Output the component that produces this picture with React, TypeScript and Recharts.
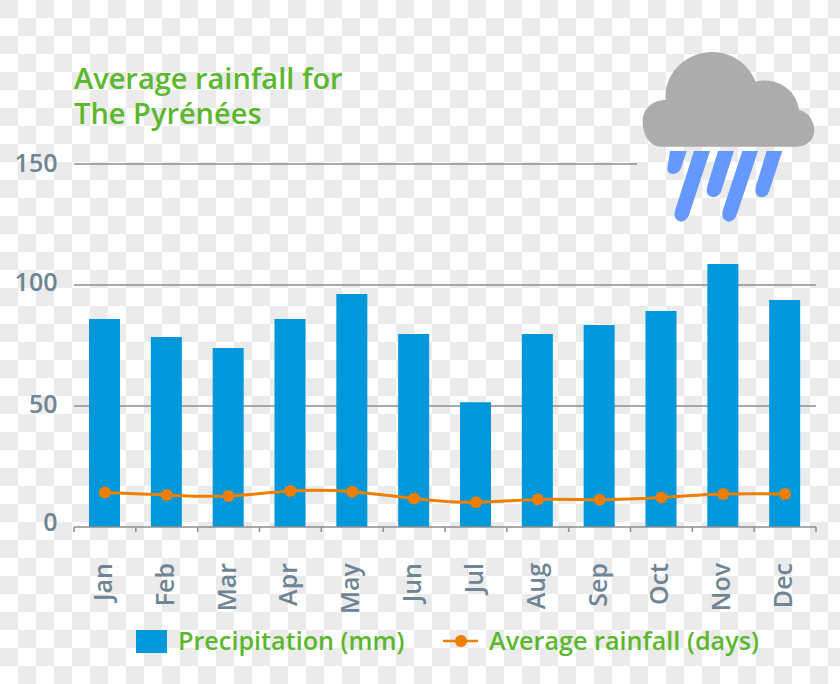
import React from "react";
import {
  ComposedChart,
  Bar,
  Line,
  XAxis,
  YAxis,
  CartesianGrid,
  ReferenceLine,
  Legend,
} from "recharts";

const months = ["Jan", "Feb", "Mar", "Apr", "May", "Jun", "Jul", "Aug", "Sep", "Oct", "Nov", "Dec"];
const precipitation = [86, 78.5, 74, 86, 96.3, 79.8, 51.6, 79.8, 83.5, 89.3, 108.7, 93.8];
const rainfallDays = [14.3, 13.2, 12.8, 14.9, 14.6, 11.8, 10.2, 11.4, 11.3, 12.2, 13.6, 13.6];
const yTicks = [0, 50, 100, 150];

const data = months.map((month, i) => ({
  month,
  precipitation: precipitation[i],
  rainfall: rainfallDays[i],
}));

const FONT = "'Open Sans', sans-serif";
const GREEN = "#5bb82e";
const SLATE = "#6f8593";
const AXIS_GREY = "#8b8f93";
const BLUE = "#0098db";
const ORANGE = "#ee7f00";

const WIDTH = 840;
const HEIGHT = 684;
const X_AXIS_H = 157;
const Y_AXIS_W = 74;
const MARGIN = { top: 164, right: 24, bottom: 0, left: 0 };
const BAND = (WIDTH - Y_AXIS_W - MARGIN.right) / months.length;

// the labels in the picture sit a bit above their gridlines, not evenly
const yLabelShift: Record<number, number> = { 0: -5, 50: -2, 100: -3, 150: -1 };

const MonthTick = ({ x, y, payload, index }: any) => (
  <g>
    <line x1={x - BAND / 2} x2={x - BAND / 2} y1={y} y2={y + 5} stroke={AXIS_GREY} strokeWidth={1.5} />
    {index === months.length - 1 && (
      <line x1={x + BAND / 2} x2={x + BAND / 2} y1={y} y2={y + 5} stroke={AXIS_GREY} strokeWidth={1.5} />
    )}
    <text
      transform={`translate(${x + 7},563) rotate(-90)`}
      textAnchor="end"
      fontFamily={FONT}
      fontSize={25}
      fontWeight={600}
      fill={SLATE}
    >
      {payload.value}
    </text>
  </g>
);

const ValueTick = ({ y, payload }: any) => (
  <text
    x={57.5}
    y={y + yLabelShift[payload.value]}
    dy="0.36em"
    textAnchor="end"
    fontFamily={FONT}
    fontSize={25}
    fontWeight={600}
    fill={SLATE}
  >
    {payload.value}
  </text>
);

// top gridline stops short of the cloud
const ShortLine = ({ x1, x2, y1 }: any) => (
  <line x1={x1} x2={x2 - 179} y1={y1} y2={y1} stroke={AXIS_GREY} strokeWidth={1.5} />
);

const LegendContent = ({ payload }: any) => {
  const textStyle: React.CSSProperties = {
    position: "absolute",
    top: -2,
    fontFamily: FONT,
    fontSize: 25.2,
    fontWeight: 600,
    lineHeight: "44px",
    color: GREEN,
    whiteSpace: "nowrap",
  };
  const bar = payload.find((p: any) => p.dataKey === "precipitation");
  const line = payload.find((p: any) => p.dataKey === "rainfall");
  return (
    <div style={{ position: "relative", width: WIDTH, height: 44 }}>
      <div style={{ position: "absolute", left: 136, top: 10, width: 31, height: 23, background: BLUE }} />
      <span style={{ ...textStyle, left: 178 }}>{bar?.value}</span>
      <svg style={{ position: "absolute", left: 443, top: 10 }} width={36} height={24}>
        <line x1={0} x2={35} y1={11} y2={11} stroke={ORANGE} strokeWidth={2.5} />
        <circle cx={18} cy={11} r={6} fill={ORANGE} />
      </svg>
      <span style={{ ...textStyle, left: 489 }}>{line?.value}</span>
    </div>
  );
};

const RainCloud = () => (
  <svg
    style={{ position: "absolute", left: 620, top: 40 }}
    width={220}
    height={190}
    viewBox="0 0 660 570"
  >
    <path
      d="M125 320 C90 320 68 285 68 245 C68 205 100 180 137 180 C130 100 200 36 275 36 C335 36 385 70 407 125 C470 110 530 150 537 210 C565 215 583 245 583 270 C583 300 560 320 530 320 Z"
      fill="#acacac"
    />
    <g fill="#6699ff">
      <path d="M150 333 L200 333 L183 385 Q175 402 158 402 Q138 400 143 378 Z" />
      <path d="M222 333 L270 333 L207 525 Q198 545 182 545 Q158 540 165 512 Z" />
      <path d="M294 333 L342 333 L303 455 Q295 472 278 472 Q255 468 261 442 Z" />
      <path d="M367 333 L414 333 L350 525 Q342 545 325 545 Q302 540 308 512 Z" />
      <path d="M440 333 L487 333 L447 455 Q440 472 423 472 Q402 468 407 442 Z" />
    </g>
  </svg>
);

const App: React.FC = () => (
  <div
    style={{
      position: "absolute",
      left: 0,
      top: 0,
      width: WIDTH,
      height: HEIGHT,
      overflow: "hidden",
      background: "repeating-conic-gradient(#ffffff 0 25%, #ebebeb 0 50%) 0 0 / 36px 36px",
    }}
  >
    <div
      style={{
        position: "absolute",
        left: 74,
        top: 60,
        fontFamily: FONT,
        fontSize: 29,
        fontWeight: 600,
        lineHeight: "35px",
        color: GREEN,
      }}
    >
      Average rainfall for
      <br />
      The Pyrénées
    </div>
    <ComposedChart width={WIDTH} height={HEIGHT} data={data} margin={MARGIN}>
      <CartesianGrid vertical={false} horizontalValues={[50, 100]} stroke={AXIS_GREY} strokeWidth={1.5} />
      <ReferenceLine y={150} shape={<ShortLine />} />
      <XAxis
        dataKey="month"
        height={X_AXIS_H}
        tickLine={false}
        tickSize={0}
        tickMargin={0}
        interval={0}
        axisLine={{ stroke: AXIS_GREY, strokeWidth: 1.5 }}
        tick={<MonthTick />}
      />
      <YAxis
        width={Y_AXIS_W}
        domain={[0, 150]}
        ticks={yTicks}
        axisLine={false}
        tickLine={false}
        tick={<ValueTick />}
      />
      <Legend
        verticalAlign="middle"
        align="center"
        wrapperStyle={{ left: 0, top: 620, width: WIDTH, height: 44 }}
        content={<LegendContent />}
      />
      <Bar dataKey="precipitation" name="Precipitation (mm)" fill={BLUE} barSize={31} isAnimationActive={false} />
      <Line
        dataKey="rainfall"
        name="Average rainfall (days)"
        type="natural"
        stroke={ORANGE}
        strokeWidth={3}
        dot={{ r: 6, fill: ORANGE, stroke: ORANGE, strokeWidth: 0 }}
        isAnimationActive={false}
      />
    </ComposedChart>
    <RainCloud />
  </div>
);

export default App;
